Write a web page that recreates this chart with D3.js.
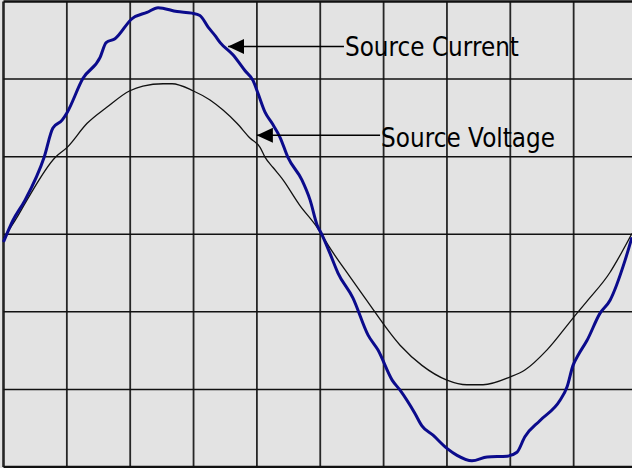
<!DOCTYPE html>
<html>
<head>
<meta charset="utf-8">
<script src="https://d3js.org/d3.v7.min.js"></script>
<style>
  body { margin: 0; background: #e3e3e3; }
  svg { display: block; }
  .label { font-family: Tahoma, "DejaVu Sans", sans-serif; font-size: 27px; fill: #000; }
</style>
</head>
<body>
<script>
var fullWidth = 632;
var fullHeight = 468;

// time in ms (2 ms per division), amplitude in divisions
var currentTime = [0.00, 0.30, 0.68, 1.28, 1.56, 1.85, 2.01, 2.51, 3.05, 3.24, 3.52, 4.06, 4.53, 4.88,
                   5.48, 5.95, 6.20, 6.46, 6.68, 6.84, 7.25, 7.62, 7.88, 8.04, 8.26, 8.48, 8.73, 8.98, 9.42,
                   9.68, 9.90, 10.06, 10.31, 10.56, 11.03, 11.51, 11.82, 12.27, 12.52, 12.99, 13.21,
                   13.56, 14.00, 14.32, 14.79, 15.27, 15.90, 16.21, 16.46, 16.94, 17.57, 17.79, 17.98,
                   18.14, 18.42, 18.83, 19.15, 19.62, 19.84];
var currentValue = [-0.10, 0.18, 0.44, 0.99, 1.37, 1.47, 1.57, 2.01, 2.28, 2.47, 2.52, 2.78, 2.86, 2.92,
                    2.87, 2.85, 2.82, 2.67, 2.56, 2.47, 2.31, 2.11, 1.98, 1.81, 1.57, 1.43, 1.25, 0.99, 0.70,
                    0.44, 0.12, -0.01, -0.25, -0.50, -0.82, -1.30, -1.49, -1.88, -2.01, -2.31, -2.47,
                    -2.59, -2.76, -2.85, -2.92, -2.87, -2.86, -2.81, -2.61, -2.40, -2.14, -1.97, -1.69,
                    -1.56, -1.37, -1.02, -0.85, -0.34, -0.04];

var voltageTime = [0.00, 0.43, 0.74, 1.63, 2.01, 2.64, 3.27, 3.99, 4.40, 5.04, 5.32, 5.98, 6.52, 6.93,
                   7.37, 7.78, 8.10, 8.26, 8.51, 8.79, 9.36, 9.90, 10.31, 10.94, 11.41, 12.52, 13.21, 14.00,
                   14.63, 15.14, 15.99, 16.46, 17.16, 17.98, 18.45, 19.15, 19.37, 19.84];
var voltageValue = [-0.05, 0.22, 0.44, 0.99, 1.12, 1.43, 1.64, 1.85, 1.91, 1.94, 1.94, 1.85, 1.73, 1.60,
                    1.43, 1.24, 1.12, 0.99, 0.86, 0.72, 0.37, 0.09, -0.18, -0.55, -0.82, -1.43, -1.69, -1.88,
                    -1.94, -1.94, -1.84, -1.75, -1.49, -1.08, -0.85, -0.49, -0.34, 0.01];

var xTicks = [0, 2, 4, 6, 8, 10, 12, 14, 16, 18, 20];
var yTicks = [-3, -2, -1, 0, 1, 2, 3];

// annotations: arrow tip and label start, in data units
var labels = ["Source Current", "Source Voltage"];
var tipTime = [7.09, 8.00];
var tipValue = [2.42, 1.275];
var textTime = [10.78, 11.92];
var textValue = [2.30, 1.12];

window.onload = function() {

    var svg = d3.select("body")
                .append("svg")
                .attr("width", fullWidth)
                .attr("height", fullHeight);

    var xScale = d3.scaleLinear()
                   .domain([0, 20])
                   .range([3.5, 637]);

    var yScale = d3.scaleLinear()
                   .domain([-3, 3])
                   .range([467, 1.5]);

    svg.append("rect")
       .attr("width", fullWidth)
       .attr("height", fullHeight)
       .style("fill", "#e3e3e3");

    // grid
    svg.selectAll(".vgrid")
       .data(xTicks)
       .enter()
       .append("line")
       .attr("class", "vgrid")
       .attr("x1", function(d) { return xScale(d); })
       .attr("x2", function(d) { return xScale(d); })
       .attr("y1", yScale(3))
       .attr("y2", yScale(-3))
       .style("stroke", "#262626")
       .style("stroke-width", function(d) { return d == 0 ? 2.6 : 1.8; });

    svg.selectAll(".hgrid")
       .data(yTicks)
       .enter()
       .append("line")
       .attr("class", "hgrid")
       .attr("x1", xScale(0))
       .attr("x2", fullWidth)
       .attr("y1", function(d) { return yScale(d); })
       .attr("y2", function(d) { return yScale(d); })
       .style("stroke", "#111")
       .style("stroke-width", function(d) { return Math.abs(d) == 3 ? 2.6 : 1.5; });

    var voltage = voltageTime.map(function(t, i) { return [t, voltageValue[i]]; });
    var current = currentTime.map(function(t, i) { return [t, currentValue[i]]; });

    var line = d3.line()
                 .x(function(d) { return xScale(d[0]); })
                 .y(function(d) { return yScale(d[1]); })
                 .curve(d3.curveMonotoneX);

    svg.append("path")
       .datum(voltage)
       .attr("d", line)
       .style("fill", "none")
       .style("stroke", "#111")
       .style("stroke-width", 1.3);

    svg.append("path")
       .datum(current)
       .attr("d", line)
       .style("fill", "none")
       .style("stroke", "#0b0b8c")
       .style("stroke-width", 3);

    svg.append("defs")
       .append("marker")
       .attr("id", "arrow")
       .attr("viewBox", "0 0 16 16")
       .attr("refX", 0)
       .attr("refY", 8)
       .attr("markerWidth", 16)
       .attr("markerHeight", 16)
       .attr("markerUnits", "userSpaceOnUse")
       .attr("orient", "auto")
       .append("path")
       .attr("d", "M0,8 L16,0.5 L16,15.5 Z")
       .style("fill", "#000");

    var notes = labels.map(function(l, i) {
        return {label: l, tx: tipTime[i], tv: tipValue[i], lx: textTime[i], lv: textValue[i]};
    });

    svg.selectAll(".pointer")
       .data(notes)
       .enter()
       .append("line")
       .attr("class", "pointer")
       .attr("x1", function(d) { return xScale(d.tx); })
       .attr("y1", function(d) { return yScale(d.tv); })
       .attr("x2", function(d) { return xScale(d.lx) - 1; })
       .attr("y2", function(d) { return yScale(d.tv); })
       .attr("marker-start", "url(#arrow)")
       .style("stroke", "#000")
       .style("stroke-width", 1.5);

    svg.selectAll(".label")
       .data(notes)
       .enter()
       .append("text")
       .attr("class", "label")
       .attr("x", function(d) { return xScale(d.lx); })
       .attr("y", function(d) { return yScale(d.lv); })
       .attr("textLength", 174)
       .attr("lengthAdjust", "spacingAndGlyphs")
       .text(function(d) { return d.label; });
};
</script>
</body>
</html>
